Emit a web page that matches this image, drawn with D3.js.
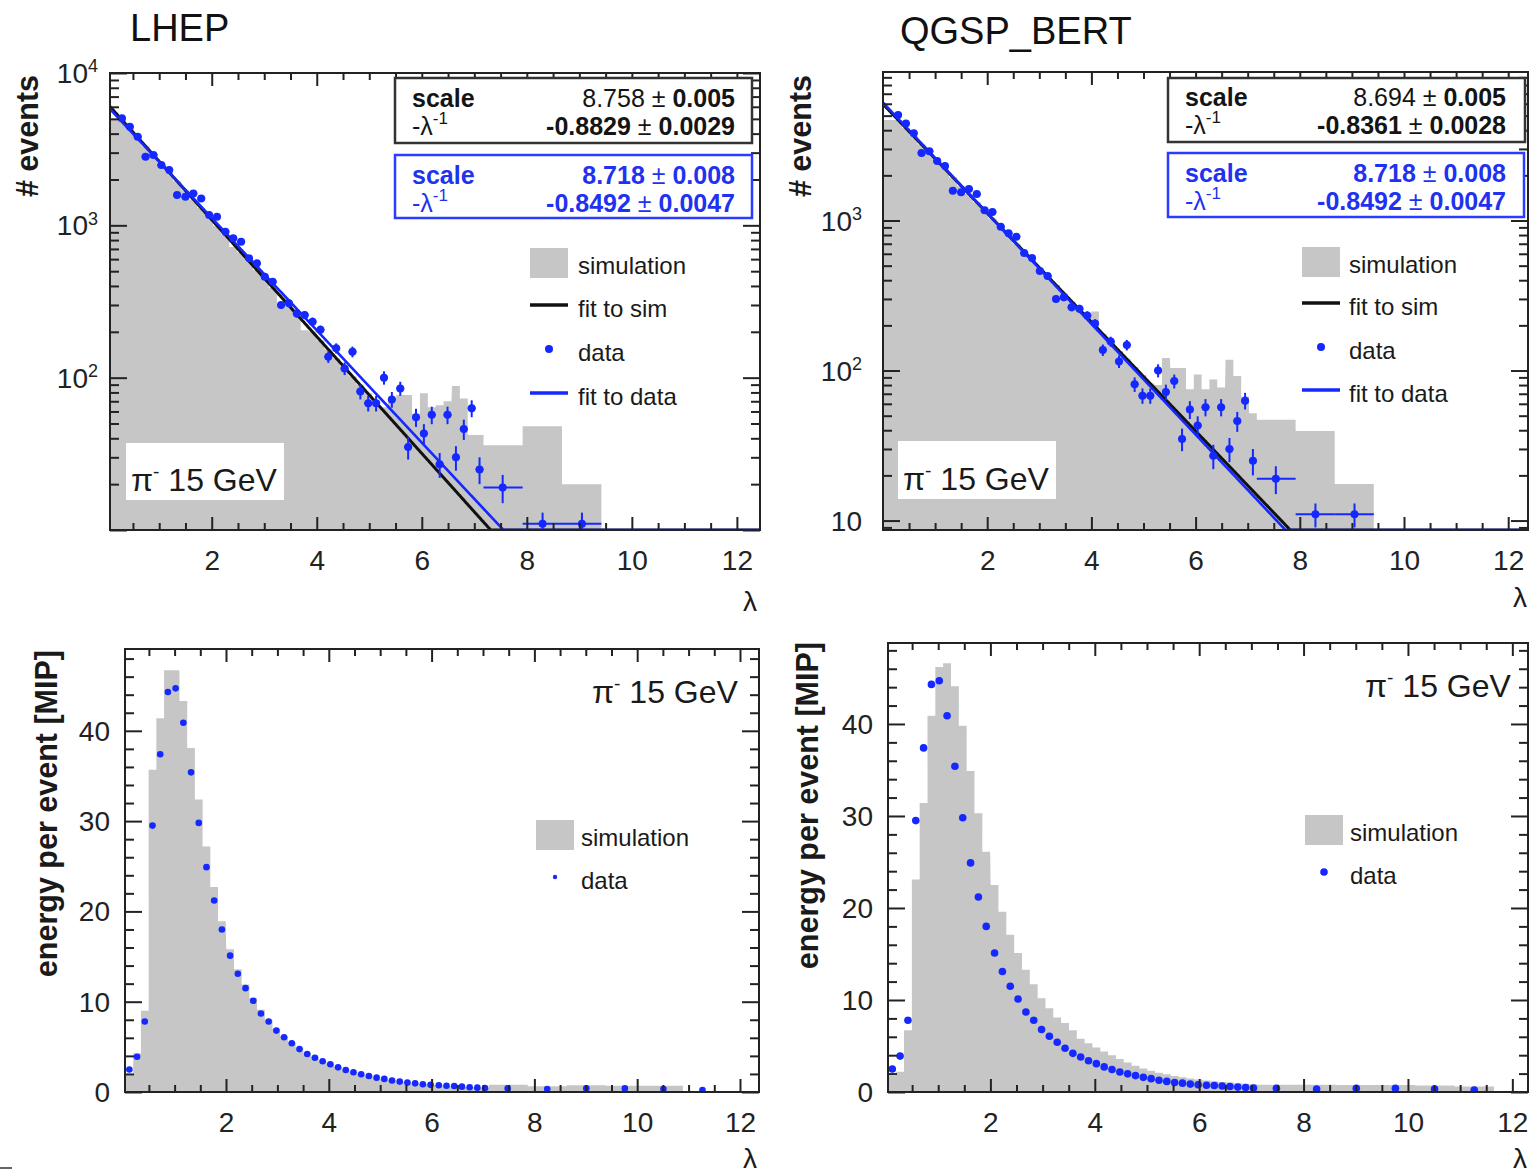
<!DOCTYPE html>
<html>
<head>
<meta charset="utf-8">
<script src="https://cdn.jsdelivr.net/npm/d3@7"></script>
<style>
body { margin: 0; background: #fff; }
</style>
</head>
<body>
<script>
var W = 1531, H = 1173;
var FONT = '"Liberation Sans", Arial, Helvetica, sans-serif';
var BLUE = '#1428ff';
var GRAY = '#c6c6c6';

// ---- top row: # events vs lambda (layer bins, last three merged) ----
var decayLam = [0.29, 0.44, 0.59, 0.74, 0.89, 1.04, 1.19, 1.34, 1.50, 1.65,
                1.80, 1.95, 2.10, 2.26, 2.41, 2.56, 2.71, 2.86, 3.01, 3.16,
                3.32, 3.47, 3.62, 3.77, 3.92, 4.07, 4.22, 4.37, 4.53, 4.68,
                4.83, 4.98, 5.13, 5.28, 5.43, 5.59, 5.74, 5.89, 6.04, 6.19,
                6.34, 6.49, 6.65, 6.80, 6.95, 7.10, 7.54, 8.30, 9.05];
var decayWideEdges = [7.175, 7.92, 8.67, 9.42];
var decayData = [5050, 4440, 3820, 2820, 2900, 2490, 2310, 1580, 1540, 1620,
                 1500, 1170, 1140, 908, 822, 780, 607, 563, 460, 427,
                 300, 308, 264, 258, 233, 206, 137, 156, 115, 148,
                 81, 68, 68, 100, 72, 85, 35, 55, 43, 57,
                 27, 57, 30, 46, 63, 25, 19, 11, 11];
var decayErr = [71, 67, 62, 53, 54, 50, 48, 40, 39, 40,
                39, 34, 34, 30, 29, 28, 25, 24, 21, 21,
                17, 18, 16, 16, 15, 14, 12, 12, 11, 12,
                9, 8, 8, 10, 8.5, 9, 6, 7.5, 6.5, 7.5,
                5, 7.5, 5.5, 7, 8, 5, 4, 2, 2];
var decaySimLHEP = [4920, 4310, 3780, 3310, 2900, 2540, 2225, 1950, 1690, 1480,
                    1300, 1140, 995, 865, 720, 665, 580, 510, 445, 390,
                    300, 297, 262, 205, 200, 176, 153, 134, 116, 102,
                    90, 79, 70, 64, 70, 77, 77, 58, 79, 64,
                    66, 70, 88, 73, 42, 42, 36, 48, 20];
var decaySimQGSP = [4680, 4130, 3640, 3210, 2830, 2500, 2205, 1945, 1700, 1500,
                    1325, 1170, 1030, 900, 796, 700, 619, 546, 482, 425,
                    372, 328, 289, 255, 235, 247, 175, 155, 135, 119,
                    105, 93, 82, 80, 121, 104, 104, 75, 94, 75,
                    87, 77, 118, 92, 67, 52, 47, 39.5, 17.5];

// fit parameters: scale, error, -1/lambda, error
var fitSimLHEP = [8.758, 0.005, -0.8829, 0.0029];
var fitSimQGSP = [8.694, 0.005, -0.8361, 0.0028];
var fitData = [8.718, 0.008, -0.8492, 0.0047];

// ---- bottom row: energy per event [MIP] vs lambda ----
var profLam = [0.12, 0.27, 0.42, 0.57, 0.72, 0.87, 1.02, 1.17, 1.32, 1.47,
               1.62, 1.77, 1.92, 2.08, 2.23, 2.38, 2.53, 2.68, 2.83, 2.98,
               3.13, 3.28, 3.43, 3.58, 3.73, 3.88, 4.03, 4.18, 4.33, 4.48,
               4.63, 4.78, 4.93, 5.08, 5.23, 5.38, 5.53, 5.68, 5.83, 5.98,
               6.14, 6.29, 6.44, 6.59, 6.74, 6.89, 7.04,
               7.48, 8.25, 9.01, 9.76, 10.51, 11.27];
var profWideEdges = [7.115, 7.87, 8.63, 9.39, 10.14, 10.89, 11.65];
var profData = [2.5, 3.9, 7.8, 29.5, 37.4, 44.3, 44.7, 40.9, 35.4, 29.8,
                24.9, 21.2, 18.0, 15.1, 13.1, 11.5, 10.1, 8.7, 7.8, 6.8,
                6.06, 5.4, 4.75, 4.2, 3.8, 3.4, 3.08, 2.73, 2.44, 2.18,
                1.97, 1.78, 1.59, 1.45, 1.28, 1.15, 1.04, 0.96, 0.86, 0.79,
                0.74, 0.70, 0.66, 0.59, 0.53, 0.48, 0.44,
                0.40, 0.33, 0.40, 0.40, 0.33, 0.22];
var profSimLHEP = [2.0, 4.3, 9.0, 35.7, 41.4, 46.7, 46.7, 43.3, 38.1, 32.4,
                   27.2, 22.7, 18.9, 15.8, 13.6, 11.9, 10.4, 9.1, 8.0, 7.0,
                   6.2, 5.5, 4.9, 4.35, 3.9, 3.5, 3.15, 2.8, 2.5, 2.25,
                   2.03, 1.82, 1.64, 1.48, 1.33, 1.2, 1.08, 0.98, 0.89, 0.82,
                   0.76, 0.71, 0.66, 0.61, 0.56, 0.52, 0.48,
                   0.8, 0.65, 0.75, 0.7, 0.7, 0.0];
var profSimQGSP = [1.8, 2.2, 6.7, 23.1, 31.4, 40.9, 46.2, 46.6, 44.1, 39.8,
                   34.9, 30.3, 26.1, 22.5, 19.6, 17.1, 15.1, 13.3, 11.7, 10.2,
                   9.1, 8.1, 7.5, 6.7, 5.8, 5.3, 4.85, 4.4, 4.0, 3.6,
                   3.2, 2.85, 2.55, 2.3, 2.1, 1.92, 1.75, 1.6, 1.47, 1.36,
                   1.26, 1.17, 1.09, 1.02, 0.95, 0.89, 0.84,
                   0.8, 0.78, 0.75, 0.75, 0.7, 0.6];

var layerHalf = 0.0755;
var xMajor = [2, 4, 6, 8, 10, 12];
var logLabelsLHEP = [100, 1000, 10000];
var logLabelsQGSP = [10, 100, 1000];
var linLabels = [0, 10, 20, 30, 40];

var svg = d3.select('body').append('svg')
    .attr('width', W).attr('height', H)
    .attr('font-family', FONT)
    .attr('fill', '#1a1a1a');

var makeBins = function(lam, wideEdges) {
    var nNarrow = lam.length - (wideEdges.length - 1);
    return lam.map(function(c, i) {
        if (i < nNarrow) return [c - layerHalf, c + layerHalf];
        var k = i - nNarrow;
        return [wideEdges[k], wideEdges[k + 1]];
    });
};
var decayBins = makeBins(decayLam, decayWideEdges);
var profBins = makeBins(profLam, profWideEdges);

var panels = [
    {id: 'tl', x0: 110, x1: 760, y0: 73, y1: 530, xDom: [0.063, 12.44], yDom: [10, 1e4], log: true,
     sim: decaySimLHEP, fit: fitSimLHEP, logLabels: logLabelsLHEP, logLabelPad: 12},
    {id: 'tr', x0: 883, x1: 1528, y0: 72, y1: 530, xDom: [0.0, 12.38], yDom: [8.65, 9770], log: true,
     sim: decaySimQGSP, fit: fitSimQGSP, logLabels: logLabelsQGSP, logLabelPad: 21},
    {id: 'bl', x0: 125, x1: 759, y0: 649, y1: 1092, xDom: [0.035, 12.37], yDom: [0, 49.06], log: false,
     sim: profSimLHEP, r: 3.3},
    {id: 'br', x0: 888, x1: 1528, y0: 643, y1: 1092, xDom: [0.038, 12.3], yDom: [0, 48.8], log: false,
     sim: profSimQGSP, r: 3.8}
];

var drawPanel = function(p) {
    var x = d3.scaleLinear().domain(p.xDom).range([p.x0, p.x1]);
    var y = (p.log ? d3.scaleLog() : d3.scaleLinear()).domain(p.yDom).range([p.y1, p.y0]);
    var bins = p.log ? decayBins : profBins;
    var g = svg.append('g');

    svg.append('clipPath').attr('id', 'clip-' + p.id)
        .append('rect')
        .attr('x', p.x0).attr('y', p.y0)
        .attr('width', p.x1 - p.x0).attr('height', p.y1 - p.y0);
    var plot = g.append('g').attr('clip-path', 'url(#clip-' + p.id + ')');

    // simulation histogram as one stepped area
    var steps = [];
    p.sim.forEach(function(v, i) {
        var lo = i === 0 ? Math.min(bins[i][0], p.xDom[0]) : bins[i][0];
        var vv = v > 0 ? v : p.yDom[0];
        steps.push([lo, vv], [bins[i][1], vv]);
    });
    var area = d3.area()
        .x(function(d) { return x(d[0]); })
        .y0(p.y1)
        .y1(function(d) { return Math.min(p.y1, y(Math.max(d[1], p.yDom[0]))); });
    plot.append('path').attr('d', area(steps)).attr('fill', GRAY);

    if (p.log) {
        // exponential fits, drawn at the frame bottom once below the minimum
        var drawFit = function(par, color, w) {
            var pts = d3.range(p.xDom[0], p.xDom[1] + 0.02, 0.02);
            var line = d3.line()
                .x(function(d) { return x(d); })
                .y(function(d) { return y(Math.max(p.yDom[0], Math.exp(par[0] + par[2] * d))); });
            plot.append('path').attr('d', line(pts))
                .attr('fill', 'none').attr('stroke', color).attr('stroke-width', w);
        };
        drawFit(p.fit, '#111', 3);
        drawFit(fitData, BLUE, 2.6);

        // data with error bars
        var pts = decayData.map(function(v, i) {
            return {x: decayLam[i], v: v, e: decayErr[i], lo: decayBins[i][0], hi: decayBins[i][1]};
        });
        plot.selectAll('line.ey').data(pts).join('line')
            .attr('x1', function(d) { return x(d.x); })
            .attr('x2', function(d) { return x(d.x); })
            .attr('y1', function(d) { return y(d.v - d.e); })
            .attr('y2', function(d) { return y(d.v + d.e); })
            .attr('stroke', BLUE).attr('stroke-width', 2);
        plot.selectAll('line.ex').data(pts).join('line')
            .attr('x1', function(d) { return x(d.lo); })
            .attr('x2', function(d) { return x(d.hi); })
            .attr('y1', function(d) { return y(d.v); })
            .attr('y2', function(d) { return y(d.v); })
            .attr('stroke', BLUE).attr('stroke-width', 2);
        plot.selectAll('circle').data(pts).join('circle')
            .attr('cx', function(d) { return x(d.x); })
            .attr('cy', function(d) { return y(d.v); })
            .attr('r', 4).attr('fill', BLUE);
    } else {
        plot.selectAll('circle').data(profData).join('circle')
            .attr('cx', function(d, i) { return x(profLam[i]); })
            .attr('cy', function(d) { return y(d); })
            .attr('r', p.r).attr('fill', BLUE);
    }

    // frame
    g.append('rect')
        .attr('x', p.x0).attr('y', p.y0)
        .attr('width', p.x1 - p.x0).attr('height', p.y1 - p.y0)
        .attr('fill', 'none').attr('stroke', '#222').attr('stroke-width', 2);

    // x ticks, inside, bottom and top
    var xMinor = d3.range(0.5, p.xDom[1], 0.5).filter(function(v) {
        return v > p.xDom[0] && v % 2 !== 0;
    });
    var styleAxis = function(sel) {
        sel.attr('color', '#222');
        sel.selectAll('.domain').remove();
        sel.selectAll('line').attr('stroke-width', 2);
        sel.selectAll('text').attr('font-size', 28).attr('font-family', FONT).attr('fill', '#222');
    };
    g.append('g').attr('transform', 'translate(0,' + p.y1 + ')')
        .call(d3.axisBottom(x).tickValues(xMajor).tickSize(-13).tickSizeOuter(0).tickPadding(20)
              .tickFormat(d3.format('d')))
        .call(styleAxis);
    g.append('g').attr('transform', 'translate(0,' + p.y1 + ')')
        .call(d3.axisBottom(x).tickValues(xMinor).tickSize(-7).tickSizeOuter(0).tickFormat(''))
        .call(styleAxis);
    g.append('g').attr('transform', 'translate(0,' + p.y0 + ')')
        .call(d3.axisTop(x).tickValues(xMajor.filter(function(v) { return v < p.xDom[1]; }))
              .tickSize(-13).tickSizeOuter(0).tickFormat(''))
        .call(styleAxis);
    g.append('g').attr('transform', 'translate(0,' + p.y0 + ')')
        .call(d3.axisTop(x).tickValues(xMinor).tickSize(-7).tickSizeOuter(0).tickFormat(''))
        .call(styleAxis);

    // y ticks, inside, left and right
    var yMajor, yMinor;
    if (p.log) {
        yMajor = [10, 100, 1000, 10000].filter(function(v) { return v >= p.yDom[0] && v <= p.yDom[1]; });
        yMinor = [];
        [1, 10, 100, 1000].forEach(function(dec) {
            for (var k = 2; k <= 9; k++) {
                var v = k * dec;
                if (v > p.yDom[0] && v < p.yDom[1]) yMinor.push(v);
            }
        });
    } else {
        yMajor = linLabels;
        yMinor = d3.range(2, p.yDom[1], 2).filter(function(v) { return v % 10 !== 0; });
    }
    [[d3.axisLeft, p.x0], [d3.axisRight, p.x1]].forEach(function(a) {
        g.append('g').attr('transform', 'translate(' + a[1] + ',0)')
            .call(a[0](y).tickValues(yMajor).tickSize(-17).tickSizeOuter(0).tickFormat(''))
            .call(styleAxis);
        g.append('g').attr('transform', 'translate(' + a[1] + ',0)')
            .call(a[0](y).tickValues(yMinor).tickSize(-9).tickSizeOuter(0).tickFormat(''))
            .call(styleAxis);
    });

    // y tick labels
    if (p.log) {
        p.logLabels.forEach(function(v) {
            var e = Math.round(Math.log10(v));
            var t = g.append('text')
                .attr('x', p.x0 - p.logLabelPad).attr('y', y(v))
                .attr('text-anchor', 'end').attr('font-size', 28).attr('fill', '#222');
            t.append('tspan').attr('dy', '0.36em').text('10');
            if (e > 1) t.append('tspan').attr('dy', '-0.6em').attr('font-size', 18).text(e);
        });
    } else {
        linLabels.forEach(function(v) {
            g.append('text')
                .attr('x', p.x0 - 15).attr('y', y(v)).attr('dy', '0.36em')
                .attr('text-anchor', 'end').attr('font-size', 28).attr('fill', '#222')
                .text(v);
        });
    }
};

panels.forEach(drawPanel);

// ---- white "pi- 15 GeV" boxes and labels ----
var piLabel = function(tx, ty, size) {
    var t = svg.append('text').attr('x', tx).attr('y', ty).attr('font-size', size).attr('fill', '#1a1a1a');
    t.append('tspan').text('π');
    t.append('tspan').attr('dy', -13).attr('font-size', size * 0.6).text('-');
    t.append('tspan').attr('dy', 13).text(' 15 GeV');
};
svg.append('rect').attr('x', 126).attr('y', 443).attr('width', 158).attr('height', 57).attr('fill', '#fff');
svg.append('rect').attr('x', 898).attr('y', 441).attr('width', 158).attr('height', 58).attr('fill', '#fff');
piLabel(131, 491, 32);
piLabel(903, 490, 32);
piLabel(592, 703, 32);
piLabel(1365, 697, 32);

// ---- fit result boxes ----
var fitBox = function(bx, by, bw, bh, color, par, lx, rx, rows, lightFirst) {
    svg.append('rect').attr('x', bx).attr('y', by).attr('width', bw).attr('height', bh)
        .attr('fill', '#fff').attr('stroke', color === BLUE ? '#2a3cff' : '#333')
        .attr('stroke-width', 2.5);
    var fc = color === BLUE ? '#1e32f0' : '#141414';
    svg.append('text').attr('x', lx).attr('y', rows[0]).attr('font-size', 25)
        .attr('font-weight', 'bold').attr('fill', fc).text('scale');
    var l2 = svg.append('text').attr('x', lx).attr('y', rows[1]).attr('font-size', 25).attr('fill', fc);
    l2.append('tspan').text('-λ');
    l2.append('tspan').attr('dy', -11).attr('font-size', 17).text('-1');
    var v1 = svg.append('text').attr('x', rx).attr('y', rows[0]).attr('font-size', 25)
        .attr('text-anchor', 'end').attr('fill', fc);
    v1.append('tspan').attr('font-weight', lightFirst ? 'normal' : 'bold').text(par[0].toFixed(3));
    v1.append('tspan').text(' ± ');
    v1.append('tspan').attr('font-weight', 'bold').text(par[1].toFixed(3));
    var v2 = svg.append('text').attr('x', rx).attr('y', rows[1]).attr('font-size', 25)
        .attr('text-anchor', 'end').attr('fill', fc);
    v2.append('tspan').attr('font-weight', 'bold').text(par[2].toFixed(4));
    v2.append('tspan').text(' ± ');
    v2.append('tspan').attr('font-weight', 'bold').text(par[3].toFixed(4));
};
fitBox(395, 78, 357, 65, '#333', fitSimLHEP, 412, 735, [107, 135], true);
fitBox(395, 155, 357, 63, BLUE, fitData, 412, 735, [184, 212], false);
fitBox(1168, 78, 357, 64, '#333', fitSimQGSP, 1185, 1506, [106, 134], true);
fitBox(1168, 153, 356, 64, BLUE, fitData, 1185, 1506, [182, 210], false);

// ---- legends ----
var legendText = function(tx, ty, s) {
    svg.append('text').attr('x', tx).attr('y', ty).attr('dy', '0.36em')
        .attr('font-size', 24).attr('fill', '#1a1a1a').text(s);
};
var topLegend = function(sx, tx, ys) {
    svg.append('rect').attr('x', sx).attr('y', ys[0] - 15).attr('width', 38).attr('height', 30).attr('fill', GRAY);
    svg.append('line').attr('x1', sx).attr('x2', sx + 38).attr('y1', ys[1]).attr('y2', ys[1])
        .attr('stroke', '#111').attr('stroke-width', 3.5);
    svg.append('circle').attr('cx', sx + 19).attr('cy', ys[2]).attr('r', 4).attr('fill', BLUE);
    svg.append('line').attr('x1', sx).attr('x2', sx + 38).attr('y1', ys[3]).attr('y2', ys[3])
        .attr('stroke', BLUE).attr('stroke-width', 3.5);
    legendText(tx, ys[0] + 2, 'simulation');
    legendText(tx, ys[1] + 3, 'fit to sim');
    legendText(tx, ys[2] + 3, 'data');
    legendText(tx, ys[3] + 3, 'fit to data');
};
topLegend(530, 578, [263, 305, 349, 393]);
topLegend(1302, 1349, [262, 303, 347, 390]);

var botLegend = function(sx, tx, ys, r) {
    svg.append('rect').attr('x', sx).attr('y', ys[0] - 15).attr('width', 38).attr('height', 30).attr('fill', GRAY);
    svg.append('circle').attr('cx', sx + 19).attr('cy', ys[1]).attr('r', r).attr('fill', BLUE);
    legendText(tx, ys[0] + 2, 'simulation');
    legendText(tx, ys[1] + 3, 'data');
};
botLegend(536, 581, [835, 877], 2.2);
botLegend(1305, 1350, [830, 872], 3.8);

// ---- axis titles ----
var yTitle = function(tx, ty, s) {
    svg.append('text').attr('transform', 'translate(' + tx + ',' + ty + ') rotate(-90)')
        .attr('text-anchor', 'end').attr('font-size', 30.5).attr('font-weight', 'bold')
        .attr('fill', '#1a1a1a').text(s);
};
yTitle(38, 75, '# events');
yTitle(811, 75, '# events');
yTitle(57, 650, 'energy per event [MIP]');
yTitle(818, 642, 'energy per event [MIP]');

[[750, 611], [1520, 607], [750, 1168], [1520, 1168]].forEach(function(c) {
    svg.append('text').attr('x', c[0]).attr('y', c[1]).attr('text-anchor', 'middle')
        .attr('font-size', 28).attr('fill', '#1a1a1a').text('λ');
});

svg.append('text').attr('x', 130).attr('y', 41).attr('font-size', 38).attr('fill', '#111').text('LHEP');
svg.append('text').attr('x', 900).attr('y', 44).attr('font-size', 38).attr('fill', '#111').text('QGSP_BERT');
svg.append('line').attr('x1', 0).attr('x2', 12).attr('y1', 1168).attr('y2', 1168)
    .attr('stroke', '#333').attr('stroke-width', 1.5);
</script>
</body>
</html>
